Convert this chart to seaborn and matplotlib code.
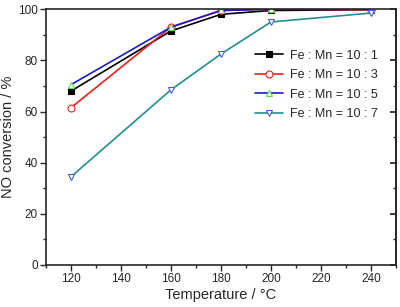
import numpy as np
import pandas as pd
import matplotlib
matplotlib.use("Agg")
import matplotlib.pyplot as plt
import seaborn as sns
from matplotlib.ticker import MultipleLocator

# =========================
# DATA
# =========================
temperature = [120, 160, 180, 200, 240]
conv_10_1 = [68.0, 91.5, 98.0, 99.5, 99.8]
conv_10_3 = [61.5, 93.0, 99.5, 100.0, 99.8]
conv_10_5 = [70.5, 93.0, 99.5, 100.0, 100.0]
conv_10_7 = [34.5, 68.5, 82.5, 95.0, 98.5]
series_names = ["Fe : Mn = 10 : 1", "Fe : Mn = 10 : 3", "Fe : Mn = 10 : 5", "Fe : Mn = 10 : 7"]

df = pd.DataFrame({
    "T": temperature * 4,
    "conv": conv_10_1 + conv_10_3 + conv_10_5 + conv_10_7,
    "series": [n for n in series_names for _ in temperature],
})

# =========================
# STYLE
# =========================
sns.set_theme(style="ticks")
plt.rcParams["font.family"] = ["Liberation Sans", "DejaVu Sans"]

line_colors = ["black", "#e8211c", "#1a1ac8", "#1f8f8f"]
markers = ["s", "o", "^", "v"]
marker_face = ["black", "white", "white", "white"]
marker_edge = ["black", "#e8211c", "#5ed35e", "#4a5ae0"]

fig, ax = plt.subplots(figsize=(4.0, 3.07), dpi=100)
fig.subplots_adjust(left=0.115, right=0.99, top=0.97, bottom=0.137)

for name, lc, mk, mf, me in zip(series_names, line_colors, markers, marker_face, marker_edge):
    sub = df[df["series"] == name]
    sns.lineplot(data=sub, x="T", y="conv", ax=ax, color=lc, marker=mk,
                 markersize=5, markerfacecolor=mf, markeredgecolor=me,
                 markeredgewidth=0.8, linewidth=1.2, label=name)

ax.set_xlim(110, 250)
ax.set_ylim(0, 100)
ax.xaxis.set_major_locator(MultipleLocator(20))
ax.xaxis.set_minor_locator(MultipleLocator(10))
ax.yaxis.set_major_locator(MultipleLocator(20))
ax.yaxis.set_minor_locator(MultipleLocator(10))
ax.tick_params(which="both", direction="out", width=1, labelsize=8.5, pad=2)
ax.tick_params(which="major", length=4)
ax.tick_params(which="minor", length=2.5)
for s in ax.spines.values():
    s.set_linewidth(1.2)

# mirrored ticks on the right side
ax2 = ax.secondary_yaxis("right")
ax2.yaxis.set_major_locator(MultipleLocator(20))
ax2.yaxis.set_minor_locator(MultipleLocator(10))
ax2.tick_params(which="both", direction="in", labelright=False)
ax2.tick_params(which="major", length=4)
ax2.tick_params(which="minor", length=2.5)

ax.set_xlabel("Temperature / °C", fontsize=10.5, labelpad=2)
ax.set_ylabel("NO conversion / %", fontsize=10.5, labelpad=2)

leg = ax.legend(loc="upper left", bbox_to_anchor=(0.565, 0.885), frameon=False,
                fontsize=9, handlelength=2.2, labelspacing=0.6, handletextpad=0.6)

plt.savefig("out.png", dpi=100)
plt.close()
